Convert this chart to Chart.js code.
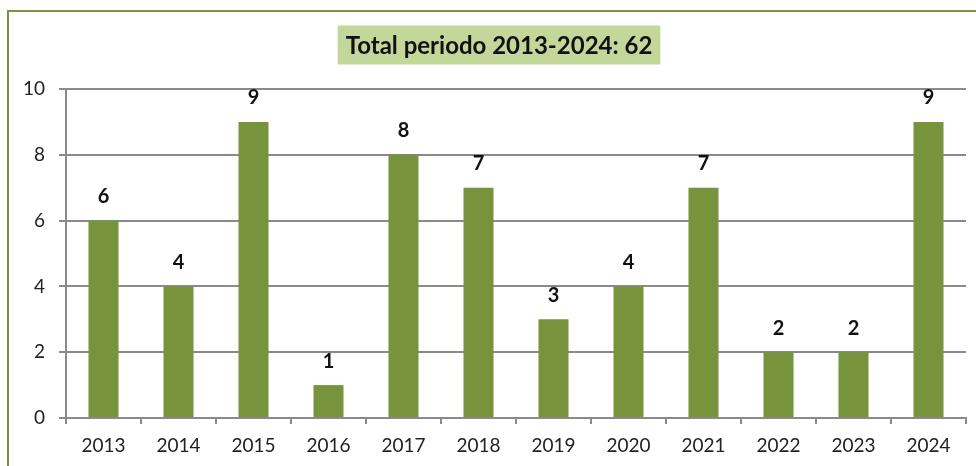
<!DOCTYPE html>
<html>
<head>
<meta charset="utf-8">
<script src="https://cdn.jsdelivr.net/npm/chart.js@4/dist/chart.umd.min.js"></script>
<style>
  html, body { margin: 0; padding: 0; background: #ffffff; }
  #wrap { width: 976px; height: 466px; position: relative; }
</style>
</head>
<body>
<div id="wrap"><canvas id="c" width="976" height="466"></canvas></div>
<script>
const categories = ["2013","2014","2015","2016","2017","2018","2019","2020","2021","2022","2023","2024"];
const values = [6, 4, 9, 1, 8, 7, 3, 4, 7, 2, 2, 9];
const titleText = "Total periodo 2013-2024: 62";
const yTicks = [0, 2, 4, 6, 8, 10];

const FONT = "Lato, 'Open Sans', 'Noto Sans', sans-serif";
const GRAY = "#8a8a8a";
const GREEN = "#77933C";

const framePlugin = {
  id: 'frame',
  beforeDraw(chart) {
    const ctx = chart.ctx;
    ctx.save();
    ctx.fillStyle = '#ffffff';
    ctx.fillRect(0, 0, chart.width, chart.height);
    ctx.strokeStyle = GREEN;
    ctx.lineWidth = 2;
    ctx.strokeRect(8, 11, chart.width + 20, chart.height + 20);
    ctx.restore();
  }
};

const titlePlugin = {
  id: 'titleBox',
  afterDraw(chart) {
    const ca = chart.chartArea;
    const ctx = chart.ctx;
    ctx.save();
    ctx.font = "bold 24px " + FONT;
    const w = ctx.measureText(titleText).width + 16;
    const cx = (ca.left + ca.right) / 2 - 17;
    const cy = ca.top - 44;
    ctx.fillStyle = "#C4D79B";
    ctx.fillRect(cx - w / 2, cy - 19.5, w, 39);
    ctx.fillStyle = "#111111";
    ctx.textAlign = "center";
    ctx.textBaseline = "middle";
    ctx.fillText(titleText, cx, cy + 1);
    ctx.restore();
  }
};

const valueLabels = {
  id: 'valueLabels',
  afterDatasetsDraw(chart) {
    const ctx = chart.ctx;
    const meta = chart.getDatasetMeta(0);
    ctx.save();
    ctx.font = "bold 20px " + FONT;
    ctx.fillStyle = "#111111";
    ctx.textAlign = "center";
    ctx.textBaseline = "middle";
    meta.data.forEach((bar, i) => {
      ctx.fillText(String(values[i]), bar.x, bar.y - 24);
    });
    ctx.restore();
  }
};

new Chart(document.getElementById('c'), {
  type: 'bar',
  data: {
    labels: categories,
    datasets: [{
      data: values,
      backgroundColor: GREEN,
      borderWidth: 0,
      barPercentage: 0.8,
      categoryPercentage: 0.5
    }]
  },
  options: {
    responsive: false,
    animation: false,
    devicePixelRatio: 1,
    layout: { padding: { left: 0, right: 10, top: 89, bottom: 0 } },
    plugins: {
      legend: { display: false },
      tooltip: { enabled: false },
      title: { display: false }
    },
    scales: {
      x: {
        offset: true,
        grid: {
          offset: true,
          drawOnChartArea: false,
          drawTicks: true,
          tickLength: 6,
          color: GRAY,
          lineWidth: 2
        },
        border: { display: true, color: GRAY, width: 2 },
        ticks: {
          color: "#222222",
          font: { family: FONT, size: 19 },
          padding: 10,
          maxRotation: 0
        },
        afterFit(scale) { scale.height = 48; }
      },
      y: {
        min: 0,
        max: 10,
        afterBuildTicks(scale) { scale.ticks = yTicks.map(v => ({ value: v })); },
        grid: {
          color: (c) => (c.tick && c.tick.value === 0) ? 'rgba(0,0,0,0)' : GRAY,
          tickColor: GRAY,
          lineWidth: 2,
          borderDash: [5, 3],
          tickBorderDash: [],
          tickLength: 7,
          drawTicks: true
        },
        border: { display: true, color: GRAY, width: 2 },
        ticks: {
          color: "#222222",
          font: { family: FONT, size: 19 },
          padding: 14
        },
        afterFit(scale) { scale.width = 66; }
      }
    }
  },
  plugins: [framePlugin, titlePlugin, valueLabels]
});
</script>
</body>
</html>
